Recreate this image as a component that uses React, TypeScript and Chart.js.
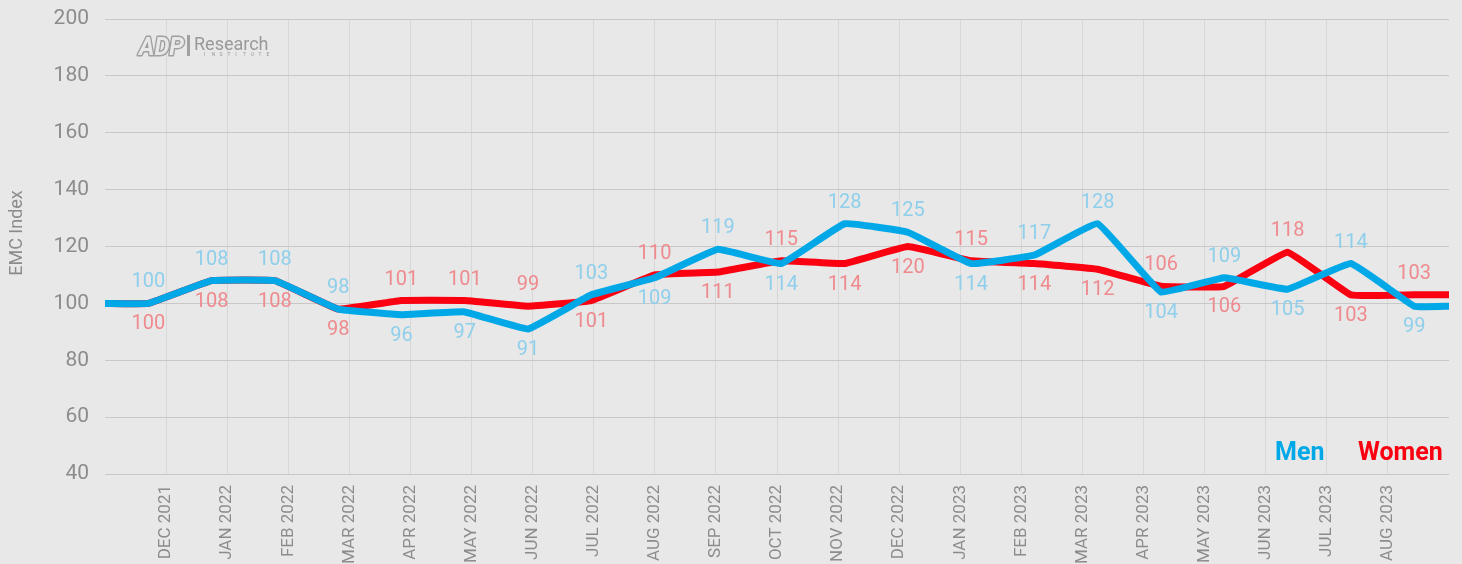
import React, { useEffect, useRef } from "react";
import { Chart, registerables } from "chart.js";

Chart.register(...registerables);

const LABELS = [
  "DEC 2021", "JAN 2022", "FEB 2022", "MAR 2022", "APR 2022", "MAY 2022", "JUN 2022",
  "JUL 2022", "AUG 2022", "SEP 2022", "OCT 2022", "NOV 2022", "DEC 2022", "JAN 2023",
  "FEB 2023", "MAR 2023", "APR 2023", "MAY 2023", "JUN 2023", "JUL 2023", "AUG 2023",
];
const MEN = [100, 108, 108, 98, 96, 97, 91, 103, 109, 119, 114, 128, 125, 114, 117, 128, 104, 109, 105, 114, 99];
const WOMEN = [100, 108, 108, 98, 101, 101, 99, 101, 110, 111, 115, 114, 120, 115, 114, 112, 106, 106, 118, 103, 103];

const Y_MIN = 40;
const Y_MAX = 200;
const Y_STEP = 20;

// secondary (data) axis range, in data-index units
const X2_MIN = -0.684;
const X2_MAX = 20.55;

const BG = "#e7e8e7";
const MEN_COLOR = "#00a8e8";
const WOMEN_COLOR = "#fb0010";
const MEN_LABEL = "#8fcfec";
const WOMEN_LABEL = "#ef8a8f";
const GRAY = "#8c8c8c";

const buildSeries = (vals: number[]) => [
  { x: X2_MIN, y: vals[0] },
  ...vals.map((v, i) => ({ x: i, y: v })),
  { x: X2_MAX, y: vals[vals.length - 1] },
];

const decorPlugin = {
  id: "decor",
  beforeDraw(chart: any) {
    const { ctx, width, height } = chart;
    ctx.save();
    ctx.fillStyle = BG;
    ctx.fillRect(0, 0, width, height);
    ctx.restore();
  },
  beforeDatasetsDraw(chart: any) {
    const { ctx } = chart;
    ctx.save();
    // Logo
    const logoGray = "#a0a0a0";
    ctx.font = "bold italic 26px Roboto";
    ctx.textBaseline = "alphabetic";
    ctx.textAlign = "left";
    const w = ctx.measureText("ADP").width;
    ctx.save();
    ctx.translate(139, 55);
    ctx.scale(45 / w, 1);
    ctx.lineWidth = 3;
    ctx.strokeStyle = logoGray;
    ctx.lineJoin = "round";
    ctx.strokeText("ADP", 0, 0);
    ctx.fillStyle = BG;
    ctx.fillText("ADP", 0, 0);
    ctx.restore();
    ctx.fillStyle = logoGray;
    ctx.fillRect(187, 35, 3, 21);
    ctx.font = "18px Roboto";
    ctx.fillStyle = "#999999";
    ctx.fillText("Research", 194, 50);
    ctx.font = "5px Roboto";
    const inst = "INSTITUTE";
    for (let i = 0; i < inst.length; i++) {
      ctx.fillText(inst[i], 204 + i * 7.8, 56);
    }
    ctx.restore();
  },
  afterDatasetsDraw(chart: any) {
    const { ctx } = chart;
    const x2 = chart.scales.x2;
    const y = chart.scales.y;
    ctx.save();
    ctx.font = "20px Roboto";
    ctx.textAlign = "center";
    ctx.textBaseline = "middle";
    for (let i = 0; i < MEN.length; i++) {
      const px = x2.getPixelForValue(i);
      const menAbove = MEN[i] >= WOMEN[i];
      const my = y.getPixelForValue(MEN[i]) + (menAbove ? -21 : 21);
      const wy = y.getPixelForValue(WOMEN[i]) + (menAbove ? 21 : -21);
      ctx.fillStyle = WOMEN_LABEL;
      ctx.fillText(String(WOMEN[i]), px, wy);
      ctx.fillStyle = MEN_LABEL;
      ctx.fillText(String(MEN[i]), px, my);
    }
    // Legend
    ctx.textAlign = "left";
    ctx.textBaseline = "alphabetic";
    ctx.font = "bold 25px Roboto";
    ctx.fillStyle = MEN_COLOR;
    ctx.fillText("Men", 1275, 460);
    ctx.fillStyle = WOMEN_COLOR;
    ctx.fillText("Women", 1358, 460);
    // Y title
    ctx.save();
    ctx.translate(17, 233);
    ctx.rotate(-Math.PI / 2);
    ctx.textAlign = "center";
    ctx.textBaseline = "middle";
    ctx.font = "18px Roboto";
    ctx.fillStyle = GRAY;
    ctx.fillText("EMC Index", 0, 0);
    ctx.restore();
    ctx.restore();
  },
};

export default function App() {
  const ref = useRef<HTMLCanvasElement | null>(null);
  useEffect(() => {
    if (!ref.current) return;
    const chart = new Chart(ref.current, {
      type: "line",
      data: {
        datasets: [
          {
            label: "Men",
            data: buildSeries(MEN),
            xAxisID: "x2",
            yAxisID: "y",
            borderColor: MEN_COLOR,
            borderWidth: 7,
            borderJoinStyle: "round",
            borderCapStyle: "butt",
            pointRadius: 0,
            tension: 0.08,
            fill: false,
          },
          {
            label: "Women",
            data: buildSeries(WOMEN),
            xAxisID: "x2",
            yAxisID: "y",
            borderColor: WOMEN_COLOR,
            borderWidth: 7,
            borderJoinStyle: "round",
            borderCapStyle: "butt",
            pointRadius: 0,
            tension: 0.08,
            fill: false,
          },
        ],
      },
      options: {
        responsive: false,
        animation: false,
        devicePixelRatio: 1,
        layout: { padding: { top: 19, right: 13, left: 0, bottom: 0 } },
        plugins: { legend: { display: false }, tooltip: { enabled: false } },
        scales: {
          x: {
            type: "linear",
            position: "bottom",
            min: 0,
            max: LABELS.length + 1,
            afterBuildTicks: (scale: any) => {
              scale.ticks = LABELS.map((_, i) => ({ value: i + 1 }));
            },
            afterFit: (scale: any) => {
              scale.height = 90;
              scale.paddingLeft = 0;
              scale.paddingRight = 0;
            },
            ticks: {
              autoSkip: false,
              maxRotation: 90,
              minRotation: 90,
              padding: 11,
              color: GRAY,
              font: { family: "Roboto", size: 17 },
              callback: (v: any) => LABELS[Number(v) - 1] ?? "",
            },
            grid: { color: "#d6d7d6", lineWidth: 1, drawTicks: false },
            border: { display: false },
          },
          x2: {
            type: "linear",
            display: false,
            min: X2_MIN,
            max: X2_MAX,
          },
          y: {
            type: "linear",
            min: Y_MIN,
            max: Y_MAX,
            afterFit: (scale: any) => {
              scale.width = 105;
              scale.paddingTop = 0;
              scale.paddingBottom = 0;
            },
            ticks: {
              stepSize: Y_STEP,
              padding: 16,
              color: GRAY,
              font: { family: "Roboto", size: 21 },
            },
            grid: { color: "#c7c8c7", lineWidth: 1, drawTicks: false },
            border: { display: false },
          },
        },
      },
      plugins: [decorPlugin],
    } as any);
    return () => chart.destroy();
  }, []);
  return (
    <div style={{ position: "fixed", left: 0, top: 0, width: 1462, height: 564, background: BG }}>
      <canvas ref={ref} width={1462} height={564} style={{ display: "block" }} />
    </div>
  );
}
